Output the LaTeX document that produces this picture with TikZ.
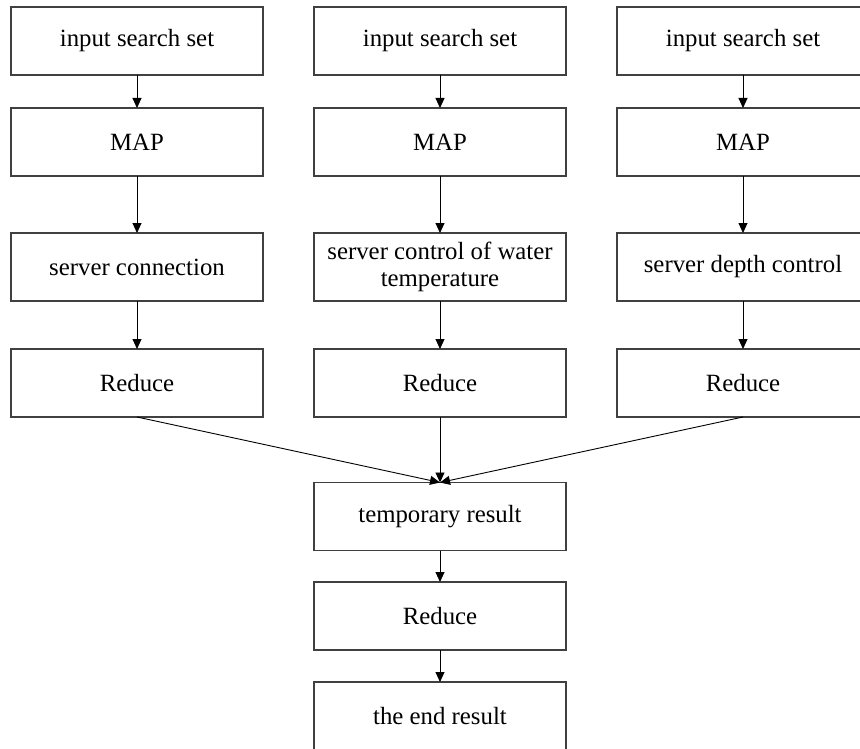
\documentclass[tikz,border=0pt]{standalone}
\usepackage{fontspec}
\setmainfont{Liberation Serif}
\usetikzlibrary{arrows.meta}
\definecolor{boxline}{HTML}{404040}
\begin{document}
\begin{tikzpicture}[x=1pt,y=-1pt,
  stepbox/.style={draw=boxline,line width=1.1pt,minimum width=252pt,minimum height=68pt,
    inner sep=0pt,outer sep=0pt,align=center,font=\fontsize{24.8}{27}\selectfont},
  openbox/.style={stepbox,draw=none},
  edge/.style={draw=boxline,line width=1.1pt},
  conn/.style={draw=black,line width=0.9pt,-{Triangle[length=10pt,width=9pt]}}]
\useasboundingbox (0,0) rectangle (860,749);
\clip (0,0) rectangle (860,749);
\node[stepbox] (in1) at (137,41) {input search set};
\node[stepbox] (in2) at (440,41) {input search set};
\node[openbox] (in3) at (743,41) {input search set};
\node[stepbox] (m1) at (137,142) {MAP};
\node[stepbox] (m2) at (440,142) {MAP};
\node[openbox] (m3) at (743,142) {MAP};
\node[stepbox] (s1) at (137,267) {server connection};
\node[stepbox] (s2) at (440,267) {server control of water\\temperature};
\node[openbox] (s3) at (743,267) {server depth control};
\node[stepbox] (r1) at (137,383) {Reduce};
\node[stepbox] (r2) at (440,383) {Reduce};
\node[openbox] (r3) at (743,383) {Reduce};
\node[stepbox] (t) at (440,516.5) {temporary result};
\node[stepbox] (r4) at (440,616) {Reduce};
\node[stepbox] (e) at (440,716) {the end result};
\foreach \n in {in3,m3,s3,r3}{
  \draw[edge] (\n.north east) -- (\n.north west) -- (\n.south west) -- (\n.south east);
}
\foreach \c in {1,2,3}{
  \draw[conn] (in\c) -- (m\c);
  \draw[conn] (m\c) -- (s\c);
  \draw[conn] (s\c) -- (r\c);
}
\draw[conn] (r1.south) -- (t.north);
\draw[conn] (r2.south) -- (t.north);
\draw[conn] (r3.south) -- (t.north);
\draw[conn] (t) -- (r4);
\draw[conn] (r4) -- (e);
\end{tikzpicture}
\end{document}
